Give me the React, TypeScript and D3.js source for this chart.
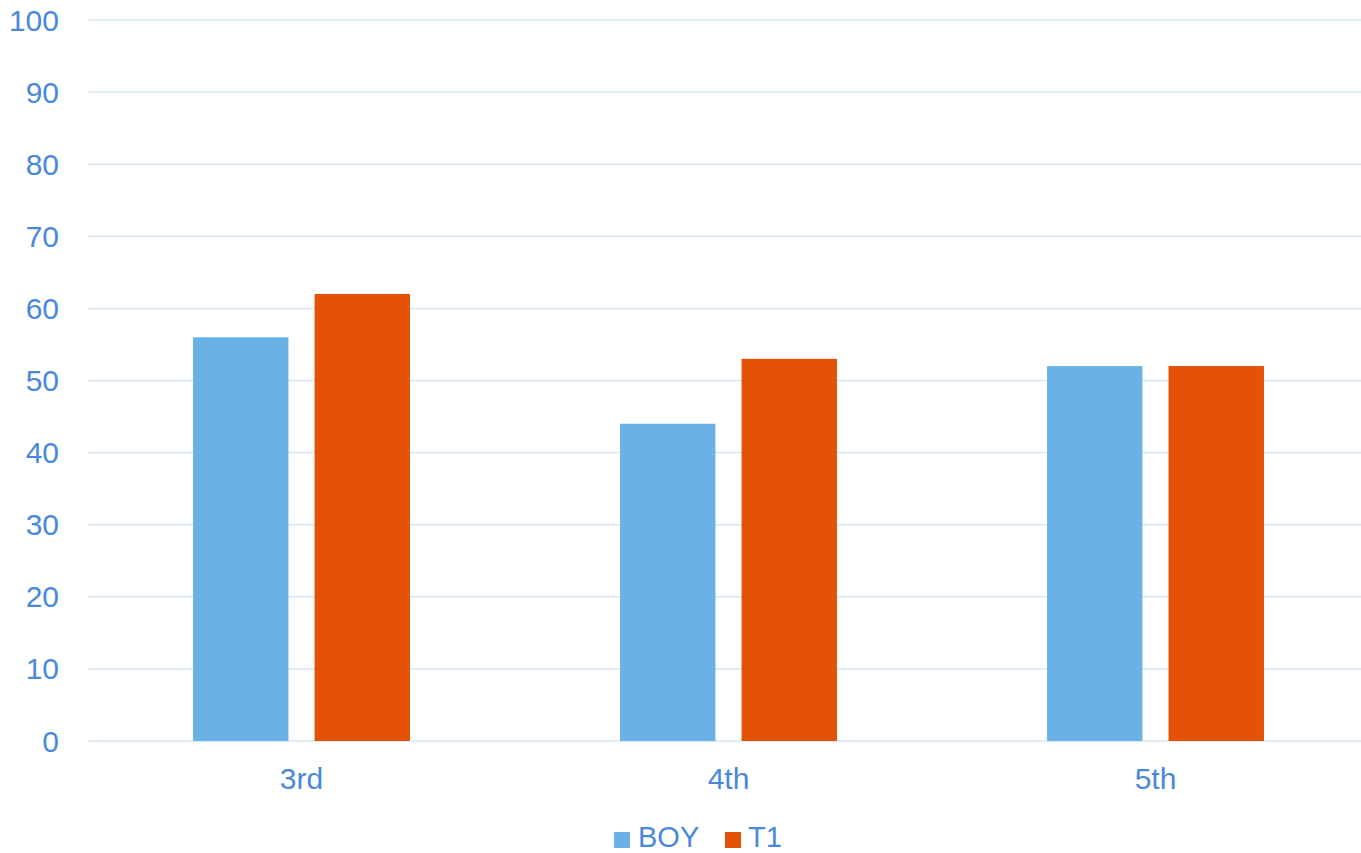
import React from 'react';
import * as d3 from 'd3';

const grades = ['3rd', '4th', '5th'];
const seriesNames = ['BOY', 'T1'];
const boyValues = [56, 44, 52];
const t1Values = [62, 53, 52];
const yTicks = [0, 10, 20, 30, 40, 50, 60, 70, 80, 90, 100];

const W = 1361;
const H = 853;
// the plot area runs slightly past the right edge of the picture
const margin = { top: 20, bottom: 112, left: 88 };
const plotRight = 1369;
const colors = ['#6ab2e6', '#e35205'];
const textColor = '#4a88da';
const gridColor = '#d9e5f6';
const font = '"Liberation Sans", Arial, sans-serif';

const App: React.FC = () => {
  const x0 = d3
    .scaleBand<string>()
    .domain(grades)
    .range([margin.left, plotRight]);

  const groupW = x0.bandwidth() * 0.508;
  const x1 = d3
    .scaleBand<string>()
    .domain(seriesNames)
    .range([0, groupW])
    .paddingInner(0.215);

  const y = d3
    .scaleLinear()
    .domain([0, 100])
    .range([H - margin.bottom, margin.top]);

  const values = [boyValues, t1Values];

  return (
    <svg
      width={W}
      height={H}
      style={{ position: 'absolute', left: 0, top: 0, background: '#fff' }}
      fontFamily={font}
    >
      {yTicks.map((t) => (
        <g key={t}>
          <line
            x1={margin.left}
            x2={W}
            y1={y(t)}
            y2={y(t)}
            stroke={gridColor}
            strokeWidth={1.5}
          />
          <text
            x={59}
            y={y(t)}
            dy="0.35em"
            textAnchor="end"
            fontSize={30}
            fill={textColor}
          >
            {t}
          </text>
        </g>
      ))}

      {grades.map((g, i) => {
        const gx = (x0(g) as number) + (x0.bandwidth() - groupW) / 2;
        return (
          <g key={g}>
            {seriesNames.map((s, j) => (
              <rect
                key={s}
                x={gx + (x1(s) as number)}
                y={y(values[j][i])}
                width={x1.bandwidth()}
                height={y(0) - y(values[j][i])}
                fill={colors[j]}
              />
            ))}
            <text
              x={(x0(g) as number) + x0.bandwidth() / 2}
              y={778}
              dy="0.35em"
              textAnchor="middle"
              fontSize={30}
              fill={textColor}
            >
              {g}
            </text>
          </g>
        );
      })}

      <g>
        <rect x={614} y={832} width={16} height={16} fill={colors[0]} />
        <text x={638} y={847} fontSize={29} fill={textColor}>
          {seriesNames[0]}
        </text>
        <rect x={725} y={832} width={16} height={16} fill={colors[1]} />
        <text x={748} y={847} fontSize={29} fill={textColor}>
          {seriesNames[1]}
        </text>
      </g>
    </svg>
  );
};

export default App;
